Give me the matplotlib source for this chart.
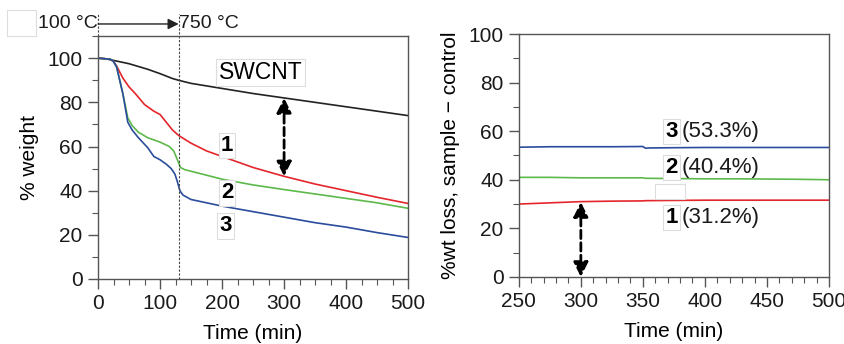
import matplotlib.pyplot as plt
from matplotlib.patches import Rectangle
from matplotlib.ticker import MultipleLocator

plt.rcParams['font.family'] = ['Liberation Sans', 'DejaVu Sans']

# left panel: % weight vs time
t_swcnt = [0, 10, 20, 50, 80, 100, 120, 130, 150, 200, 250, 300, 350, 400, 450, 500]
w_swcnt = [100, 99.8, 99.3, 97.5, 95, 93, 90.8, 90, 88.6, 86.3, 84, 82, 80, 78, 76, 74]

t_1 = [0, 10, 20, 25, 30, 40, 50, 60, 75, 90, 100, 110, 120, 130, 150, 175, 200, 250, 300, 350, 400, 450, 500]
w_1 = [100, 99.8, 99.5, 98.5, 96.5, 91, 87, 84, 79, 76, 74.5, 71, 67.5, 65, 61.5, 58, 55.5, 50.5, 46.5, 43, 40, 37, 34.2]

t_2 = [0, 10, 20, 25, 30, 40, 48, 55, 65, 80, 100, 115, 122, 128, 133, 140, 150, 200, 250, 300, 350, 400, 450, 500]
w_2 = [100, 99.8, 99.5, 98.5, 96, 84, 73, 69.5, 66.5, 64, 62, 60, 58, 54, 50.5, 49.5, 48.8, 45.2, 42.6, 40.5, 38.5, 36.5, 34.5, 32]

t_3 = [0, 10, 20, 25, 30, 40, 48, 55, 65, 80, 90, 100, 110, 118, 124, 128, 132, 137, 150, 175, 200, 250, 300, 350, 400, 450, 500]
w_3 = [100, 99.8, 99.5, 98.5, 96, 84, 71, 67.5, 64, 59.5, 55.5, 54, 52, 50, 47.5, 44, 40, 38, 36, 34.5, 33, 30.5, 28, 25.5, 23.5, 21, 18.8]

# right panel: wt loss difference
t_r = [250, 275, 300, 325, 350, 352, 355, 375, 400, 425, 450, 475, 500]
loss_3 = [53.4, 53.6, 53.6, 53.6, 53.7, 53.0, 53.1, 53.2, 53.3, 53.3, 53.3, 53.3, 53.3]
loss_2 = [41.0, 41.0, 40.8, 40.8, 40.8, 40.6, 40.6, 40.5, 40.4, 40.4, 40.3, 40.2, 40.0]
loss_1 = [30.0, 30.5, 31.0, 31.2, 31.3, 31.4, 31.4, 31.5, 31.6, 31.6, 31.6, 31.6, 31.6]

red = '#e4262c'
green = '#5db94a'
blue = '#2b4c9c'
blk = '#222222'
spine_c = '#555555'
fs = 15

fig = plt.figure(figsize=(8.45, 3.44), dpi=100)

# stray empty boxes from the original figure
fig.add_artist(Rectangle((7 / 845, 1 - 36 / 344), 29 / 845, 26 / 344, transform=fig.transFigure,
                         fc='white', ec='#dddddd', lw=0.8, zorder=0))

ax1 = fig.add_axes([0.116, 0.189, 0.367, 0.706])
ax2 = fig.add_axes([0.614, 0.195, 0.367, 0.706])

def style(ax):
    for s in ax.spines.values():
        s.set_color(spine_c)
        s.set_linewidth(1.0)
    ax.tick_params(which='major', direction='out', length=7, width=1, color=spine_c,
                   labelsize=fs, labelcolor='#1a1a1a', pad=4)
    ax.tick_params(which='minor', direction='out', length=4, width=0.8, color=spine_c)

ax1.plot(t_swcnt, w_swcnt, color=blk, lw=1.2)
ax1.plot(t_1, w_1, color=red, lw=1.2)
ax1.plot(t_2, w_2, color=green, lw=1.2)
ax1.plot(t_3, w_3, color=blue, lw=1.2)
ax1.set_xlim(0, 500)
ax1.set_ylim(0, 110)
ax1.set_yticks(range(0, 101, 20))
ax1.xaxis.set_major_locator(MultipleLocator(100))
ax1.xaxis.set_minor_locator(MultipleLocator(25))
ax1.yaxis.set_minor_locator(MultipleLocator(10))
style(ax1)
ax1.set_xlabel('Time (min)', fontsize=fs, labelpad=8)
ax1.set_ylabel('% weight', fontsize=fs, labelpad=6)

# temperature ramp marker
ax1.plot([130, 130], [0, 120], color='#444444', lw=0.8, ls=(0, (2, 1.5)), clip_on=False)
ax1.plot([0, 0], [110, 120], color='#444444', lw=0.8, ls=(0, (2, 1.5)), clip_on=False)
ax1.annotate('', xy=(130, 115.5), xytext=(0, 115.5),
             arrowprops=dict(arrowstyle='-|>', color=blk, lw=1.0, mutation_scale=16,
                             shrinkA=0, shrinkB=0),
             annotation_clip=False)
ax1.text(-1, 115.5, '100 °C', fontsize=14, ha='right', va='center', color='#1a1a1a')
ax1.text(131, 115.5, '750 °C', fontsize=14, ha='left', va='center', color='#1a1a1a')

box = dict(boxstyle='square,pad=0.1', fc='white', ec='#dddddd', lw=0.8)
ax1.text(262, 93.5, 'SWCNT', fontsize=16.5, ha='center', va='center', bbox=box)
ax1.text(208, 60.5, '1', fontsize=16, fontweight='bold', ha='center', va='center', bbox=box)
ax1.text(208, 39, '2', fontsize=16, fontweight='bold', ha='center', va='center', bbox=box)
ax1.text(206, 24, '3', fontsize=16, fontweight='bold', ha='center', va='center', bbox=box)

ax1.annotate('', xy=(300, 82), xytext=(300, 46.5),
             arrowprops=dict(arrowstyle='<|-|>', color='black', lw=2, ls=(0, (3, 1.5)),
                             mutation_scale=22, shrinkA=0, shrinkB=0))

ax2.plot(t_r, loss_3, color=blue, lw=1.2)
ax2.plot(t_r, loss_2, color=green, lw=1.2)
ax2.plot(t_r, loss_1, color=red, lw=1.2)
ax2.set_xlim(250, 500)
ax2.set_ylim(0, 100)
ax2.set_yticks(range(0, 101, 20))
ax2.xaxis.set_major_locator(MultipleLocator(50))
ax2.xaxis.set_minor_locator(MultipleLocator(10))
ax2.yaxis.set_minor_locator(MultipleLocator(10))
style(ax2)
ax2.set_xlabel('Time (min)', fontsize=fs, labelpad=8)
ax2.set_ylabel('%wt loss, sample \u2212 control', fontsize=fs, labelpad=6)

for lab, pct, yy in [('3', '(53.3%)', 59.8), ('2', '(40.4%)', 45), ('1', '(31.2%)', 24.5)]:
    ax2.text(373, yy, lab, fontsize=16, fontweight='bold', ha='center', va='center', bbox=box)
    ax2.text(381.5, yy, pct, fontsize=16, ha='left', va='center', color='#1a1a1a')

ax2.annotate('', xy=(300, 0), xytext=(300, 30.8),
             arrowprops=dict(arrowstyle='<|-|>', color='black', lw=2, ls=(0, (3, 1.5)),
                             mutation_scale=22, shrinkA=0, shrinkB=0))

fig.add_artist(Rectangle((655 / 845, 1 - 199 / 344), 30 / 845, 15 / 344, transform=fig.transFigure,
                         fc='white', ec='#dddddd', lw=0.8, zorder=5))

fig.savefig('out.png', dpi=100)
